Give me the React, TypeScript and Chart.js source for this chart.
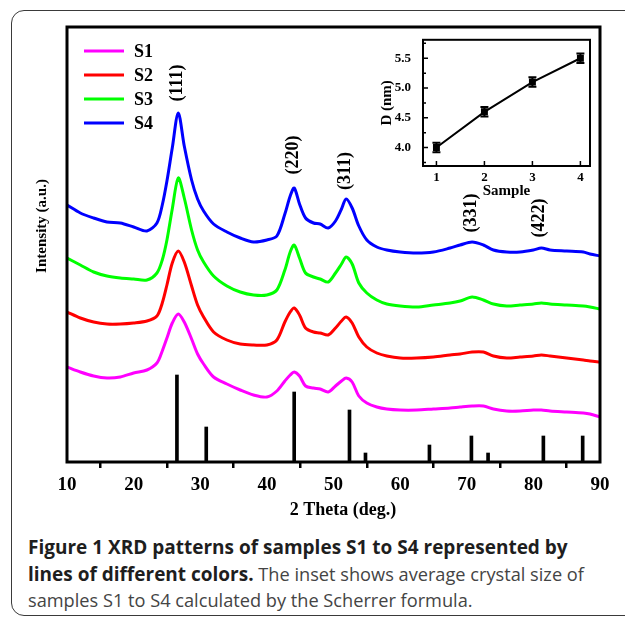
import React, { useEffect, useRef } from "react";
import { Chart, registerables } from "chart.js";

Chart.register(...registerables);

// ---------- data ----------
const theta = [10, 12, 14, 16, 18, 20, 22, 23.5, 24.3, 25, 25.8, 26.7, 27.6, 28.7, 29.6, 30.5, 32, 34, 36, 38, 40, 41.5, 42.7, 43.5, 44.1, 44.9, 45.8, 47, 48, 49.2, 50.3, 51.2, 51.9, 52.8, 53.8, 55, 56.5, 58, 60, 62.5, 65, 67.5, 69, 70.8, 72.5, 74, 76, 78, 80, 81.2, 82.5, 85, 87.5, 88.5, 90];

const s1 = [95, 90, 86, 84, 85, 89, 92, 99, 111, 124, 139, 148, 140, 123, 108, 98, 85, 78, 72, 67, 65, 71, 81, 87, 90, 86, 76, 74, 73, 70, 76, 81, 84, 80, 66, 59, 55, 53, 52, 52, 53, 54, 55, 56, 56, 53, 51, 51, 52, 52, 51, 50, 49, 48, 45];
const s2 = [150, 144, 140, 138, 138, 139, 141, 146, 159, 177, 199, 211, 200, 176, 157, 145, 130, 122, 118, 117, 117, 122, 140, 150, 154, 147, 134, 130, 129, 127, 134, 141, 145, 139, 125, 115, 109, 106, 104, 104, 105, 107, 108, 110, 110, 106, 104, 105, 106, 107, 106, 104, 102, 101, 100];
const s3 = [204, 197, 190, 186, 184, 183, 182, 189, 202, 222, 253, 284, 264, 232, 212, 200, 186, 176, 170, 167, 167, 172, 192, 210, 217, 204, 189, 185, 183, 180, 189, 198, 205, 198, 179, 169, 162, 158, 156, 155, 157, 159, 161, 165, 162, 158, 156, 157, 158, 159, 158, 157, 156, 155, 153];
const s4 = [257, 249, 244, 240, 239, 235, 231, 239, 257, 281, 314, 349, 316, 282, 263, 251, 238, 230, 224, 220, 222, 226, 248, 266, 274, 258, 244, 239, 238, 234, 241, 253, 263, 254, 236, 222, 215, 212, 210, 209, 210, 214, 217, 220, 217, 212, 210, 210, 212, 214, 212, 211, 210, 208, 206];

const seriesLabels = ["S1", "S2", "S3", "S4"];
const seriesColors = ["#ff00ff", "#ff0000", "#00ff00", "#0000ff"];

const stickTheta = [26.5, 30.9, 44.1, 52.4, 54.8, 64.4, 70.7, 73.2, 81.5, 87.4];
const stickHeight = [87, 35, 70, 52, 9, 17, 26, 9, 26, 26];

const peakLabels = ["(111)", "(220)", "(311)", "(331)", "(422)"];
const peakTheta = [26.6, 44.0, 51.8, 70.7, 80.95];
const peakLabelY = [379, 307, 291, 249, 244];

const xTicks = [10, 20, 30, 40, 50, 60, 70, 80, 90];

const insetSample = [1, 2, 3, 4];
const insetD = [4.0, 4.6, 5.1, 5.5];
const insetErr = [0.08, 0.08, 0.08, 0.08];
const insetYTicks = [4.0, 4.5, 5.0, 5.5];
const insetYMinor = [3.75, 4.25, 4.75, 5.25, 5.75];

const SERIF = '"Liberation Serif", "Times New Roman", Times, serif';

const mainDecor = {
  id: "mainDecor",
  afterDatasetsDraw(chart: any) {
    const { ctx, chartArea: a, scales } = chart;
    const x = scales.x;
    const y = scales.y;
    ctx.save();
    ctx.strokeStyle = "#000";
    ctx.lineWidth = 3;
    ctx.strokeRect(a.left, a.top, a.right - a.left, a.bottom - a.top);

    ctx.fillStyle = "#000";
    ctx.font = `bold 18px ${SERIF}`;
    ctx.textAlign = "center";
    ctx.textBaseline = "middle";
    peakLabels.forEach((lab, i) => {
      ctx.save();
      ctx.translate(x.getPixelForValue(peakTheta[i]), y.getPixelForValue(peakLabelY[i]));
      ctx.rotate(-Math.PI / 2);
      ctx.fillText(lab, 0, 0);
      ctx.restore();
    });

    // legend
    ctx.textAlign = "left";
    chart.data.datasets.slice(0, 4).forEach((ds: any, i: number) => {
      const ly = a.top + 24 + i * 24;
      ctx.strokeStyle = ds.borderColor;
      ctx.lineWidth = 3;
      ctx.beginPath();
      ctx.moveTo(a.left + 17, ly);
      ctx.lineTo(a.left + 57, ly);
      ctx.stroke();
      ctx.fillStyle = "#000";
      ctx.font = `bold 18px ${SERIF}`;
      ctx.fillText(ds.label, a.left + 67, ly + 1);
    });

    // axis titles
    ctx.textAlign = "center";
    ctx.font = `bold 15px ${SERIF}`;
    ctx.save();
    ctx.translate(a.left - 25, a.top + 199);
    ctx.rotate(-Math.PI / 2);
    ctx.fillText("Intensity (a.u.)", 0, 0);
    ctx.restore();
    ctx.font = `bold 18px ${SERIF}`;
    ctx.fillText("2 Theta (deg.)", a.left + 276, a.bottom + 48);
    ctx.restore();
  },
};

const insetDecor = {
  id: "insetDecor",
  afterDatasetsDraw(chart: any) {
    const { ctx, chartArea: a, scales } = chart;
    const x = scales.x;
    const y = scales.y;
    ctx.save();
    ctx.strokeStyle = "#000";
    // error bars
    ctx.lineWidth = 2;
    insetSample.forEach((s, i) => {
      const px = x.getPixelForValue(s);
      const top = y.getPixelForValue(insetD[i] + insetErr[i]);
      const bot = y.getPixelForValue(insetD[i] - insetErr[i]);
      ctx.beginPath();
      ctx.moveTo(px, top);
      ctx.lineTo(px, bot);
      ctx.moveTo(px - 4, top);
      ctx.lineTo(px + 4, top);
      ctx.moveTo(px - 4, bot);
      ctx.lineTo(px + 4, bot);
      ctx.stroke();
    });
    // inward ticks
    ctx.lineWidth = 1.5;
    ctx.beginPath();
    insetYTicks.forEach((v) => {
      const py = y.getPixelForValue(v);
      ctx.moveTo(a.left, py);
      ctx.lineTo(a.left + 5, py);
    });
    insetYMinor.forEach((v) => {
      const py = y.getPixelForValue(v);
      ctx.moveTo(a.left, py);
      ctx.lineTo(a.left + 3, py);
    });
    insetSample.forEach((v) => {
      const px = x.getPixelForValue(v);
      ctx.moveTo(px, a.bottom);
      ctx.lineTo(px, a.bottom - 5);
    });
    ctx.stroke();
    ctx.lineWidth = 2;
    ctx.strokeRect(a.left, a.top, a.right - a.left, a.bottom - a.top);
    ctx.restore();
  },
};

export default function App() {
  const mainRef = useRef<HTMLCanvasElement>(null);
  const insetRef = useRef<HTMLCanvasElement>(null);

  useEffect(() => {
    const series = [s1, s2, s3, s4];
    const main = new Chart(mainRef.current as HTMLCanvasElement, {
      type: "line",
      data: {
        datasets: [
          ...series.map((vals, i) => ({
            type: "line" as const,
            label: seriesLabels[i],
            data: theta.map((t, j) => ({ x: t, y: vals[j] })),
            borderColor: seriesColors[i],
            backgroundColor: seriesColors[i],
            borderWidth: 3,
            borderJoinStyle: "round" as const,
            borderCapStyle: "round" as const,
            pointRadius: 0,
            tension: 0.3,
            fill: false,
          })),
          {
            type: "bar" as const,
            label: "PDF",
            data: stickTheta.map((t, i) => ({ x: t, y: stickHeight[i] })),
            backgroundColor: "#000",
            borderWidth: 0,
            barThickness: 3,
          } as any,
        ],
      },
      options: {
        animation: false,
        responsive: false,
        devicePixelRatio: 1,
        layout: { padding: { left: 0, top: 27, right: 25, bottom: 0 } },
        plugins: { legend: { display: false }, tooltip: { enabled: false } },
        scales: {
          x: {
            type: "linear",
            min: 10,
            max: 90,
            offset: false,
            afterBuildTicks: (s: any) => {
              s.ticks = xTicks.map((v) => ({ value: v }));
            },
            afterFit: (s: any) => {
              s.height = 68;
            },
            grid: { drawOnChartArea: false, drawTicks: true, tickLength: 6, lineWidth: 2.5, color: "#000" },
            border: { display: false },
            ticks: { color: "#000", font: { family: SERIF, size: 19, weight: "bold" }, padding: 6, maxRotation: 0 },
          },
          y: {
            type: "linear",
            min: 0,
            max: 435,
            afterFit: (s: any) => {
              s.width = 67;
            },
            grid: { display: false, drawTicks: false },
            border: { display: false },
            ticks: { display: false },
          },
        },
      } as any,
      plugins: [mainDecor],
    });

    const inset = new Chart(insetRef.current as HTMLCanvasElement, {
      type: "line",
      data: {
        datasets: [
          {
            label: "D",
            data: insetSample.map((s, i) => ({ x: s, y: insetD[i] })),
            borderColor: "#000",
            backgroundColor: "#000",
            borderWidth: 2,
            pointStyle: "rect",
            pointRadius: 3.5,
            tension: 0,
          },
        ],
      },
      options: {
        animation: false,
        responsive: false,
        devicePixelRatio: 1,
        layout: { padding: { left: 0, top: 16, right: 20, bottom: 0 } },
        plugins: { legend: { display: false }, tooltip: { enabled: false } },
        scales: {
          x: {
            type: "linear",
            min: 0.72,
            max: 4.2,
            afterBuildTicks: (s: any) => {
              s.ticks = insetSample.map((v) => ({ value: v }));
            },
            afterFit: (s: any) => {
              s.height = 44;
            },
            grid: { display: false, drawTicks: false },
            border: { display: false },
            ticks: { color: "#000", font: { family: SERIF, size: 13, weight: "bold" }, padding: 4, maxRotation: 0 },
            title: {
              display: true,
              text: "Sample",
              color: "#000",
              font: { family: SERIF, size: 15, weight: "bold" },
              padding: { top: 0, bottom: 10 },
            },
          },
          y: {
            type: "linear",
            min: 3.69,
            max: 5.81,
            afterBuildTicks: (s: any) => {
              s.ticks = insetYTicks.map((v) => ({ value: v }));
            },
            afterFit: (s: any) => {
              s.width = 63;
            },
            grid: { display: false, drawTicks: false },
            border: { display: false },
            ticks: {
              color: "#000",
              font: { family: SERIF, size: 13, weight: "bold" },
              padding: 12,
              callback: (v: any) => Number(v).toFixed(1),
            },
            title: {
              display: true,
              text: "D (nm)",
              color: "#000",
              font: { family: SERIF, size: 15, weight: "bold" },
              padding: { top: 18, bottom: 0 },
            },
          },
        },
      } as any,
      plugins: [insetDecor],
    });

    return () => {
      main.destroy();
      inset.destroy();
    };
  }, []);

  const boldStyle: React.CSSProperties = { fontWeight: 700, color: "#1e1e1e", fontSize: 19 };
  const regStyle: React.CSSProperties = { fontWeight: 400, color: "#444", fontSize: 18.2 };

  return (
    <div style={{ position: "absolute", left: 0, top: 0, width: 625, height: 620, background: "#fff", overflow: "hidden" }}>
      <div
        style={{
          position: "absolute",
          left: 11,
          top: 10,
          width: 660,
          height: 606,
          border: "1.5px solid #3a3a3a",
          borderRadius: 13,
          boxSizing: "border-box",
        }}
      />
      <canvas ref={mainRef} width={625} height={530} style={{ position: "absolute", left: 0, top: 0, width: 625, height: 530 }} />
      <canvas ref={insetRef} width={250} height={190} style={{ position: "absolute", left: 360, top: 20, width: 250, height: 190 }} />
      <div
        style={{
          position: "absolute",
          left: 28,
          top: 534,
          fontFamily: '"Open Sans", "Noto Sans", sans-serif',
          fontSize: 18.2,
          lineHeight: "26.5px",
          whiteSpace: "nowrap",
        }}
      >
        <span style={boldStyle}>Figure 1 XRD patterns of samples S1 to S4 represented by</span>
        <br />
        <span style={boldStyle}>lines of different colors.</span>
        <span style={regStyle}> The inset shows average crystal size of</span>
        <br />
        <span style={regStyle}>samples S1 to S4 calculated by the Scherrer formula.</span>
      </div>
    </div>
  );
}
